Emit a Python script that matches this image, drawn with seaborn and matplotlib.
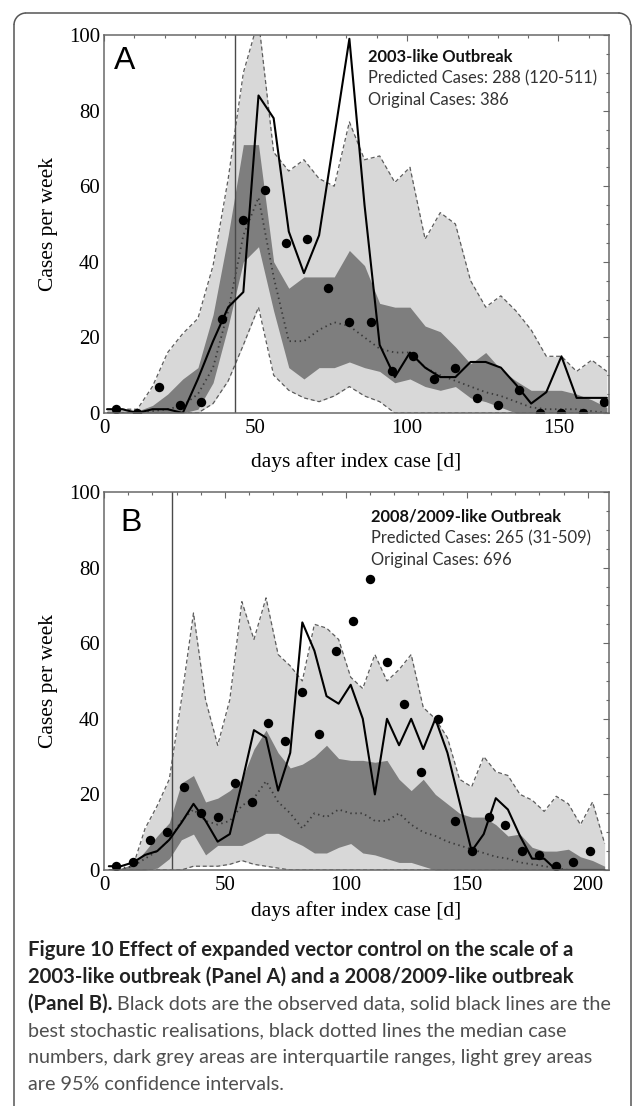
import numpy as np
import pandas as pd
import matplotlib
matplotlib.use("Agg")
import matplotlib.pyplot as plt
from matplotlib.transforms import Affine2D
from matplotlib.patches import Arc
from matplotlib.lines import Line2D
from matplotlib.ticker import MultipleLocator
import seaborn as sns

W, H = 633, 1106

# ---------------- Panel A (2003-like outbreak) ----------------
obs_days_A = [4, 11, 18, 25, 32, 39, 46, 53, 60, 67, 74, 81, 88, 95, 102, 109,
              116, 123, 130, 137, 144, 151, 158, 165]
obs_cases_A = [1, 0, 7, 2, 3, 25, 51, 59, 45, 46, 33, 24, 24, 11, 15, 9,
               12, 4, 2, 6, 0, 0, 0, 3]
sim_days_A = [1, 6, 11, 16, 21, 26, 31, 36, 41, 46, 51, 56, 61, 66, 71, 76, 81,
              86, 91, 96, 101, 106, 111, 116, 121, 126, 131, 136, 141, 146, 151,
              156, 161, 166]
best_A = [1, 1, 0, 1, 1, 0, 9, 19, 28, 32,
          84, 78, 48, 37, 47, 73, 99, 55, 18, 9.5,
          16, 12, 9.5, 9.5, 13.5, 13.5, 12, 7.5, 2.5, 5.5,
          15, 4, 4, 4]
median_A = [0, 0, 0, 0.5, 1, 2, 5, 12, 27, 47,
            57, 36, 19, 19, 22, 24, 23, 20, 17, 16,
            16, 12, 10, 8.5, 7, 5.5, 4.5, 3, 1.5, 1,
            1, 1, 0.5, 0]
iqr_low_A = [0, 0, 0, 0, 0, 0, 1, 8, 23, 40,
             44, 27, 12, 9, 12, 12, 13.5, 12, 11, 8,
             9, 7, 6, 7, 4, 3, 1.5, 0, 0, 0,
             0, 0, 0, 0]
iqr_high_A = [0.5, 0.5, 0.5, 2, 5, 9, 12, 26, 47, 71,
              71, 40, 33, 36, 36, 36, 43, 39, 29, 28,
              28, 23, 21.5, 17.5, 13, 16, 11.5, 8.5, 6, 6,
              6, 5, 3.5, 1.5]
ci_low_A = [0, 0, 0, 0, 0, 0, 0, 2.5, 8.5, 18,
            28, 10, 6, 4, 3, 4.5, 7, 4.5, 3, 0,
            0, 0, 0, 0, 0, 0, 0, 0, 0, 0,
            0, 0, 0, 0]
ci_high_A = [1, 1, 1, 7, 16, 21, 25, 39, 62, 90,
             104, 69, 64, 67, 62, 60, 77, 67, 68, 61,
             65, 46, 53, 50, 35, 28, 31, 27, 22, 15,
             15, 11, 14, 11]
vline_A = 43.3
xmax_A = 166.7
xticks_A = [0, 50, 100, 150]
title_A = "2003-like Outbreak"
info_A = ["Predicted Cases: 288 (120-511)", "Original Cases: 386"]

# ---------------- Panel B (2008/2009-like outbreak) ----------------
obs_days_B = [5, 12, 19, 26, 33, 40, 47, 54, 61, 68, 75, 82, 89, 96, 103, 110,
              117, 124, 131, 138, 145, 152, 159, 166, 173, 180, 187, 194, 201]
obs_cases_B = [1, 2, 8, 10, 22, 15, 14, 23, 18, 39, 34, 47, 36, 58, 66, 77,
               55, 44, 26, 40, 13, 5, 14, 12, 5, 4, 1, 2, 5]
sim_days_B = [2, 7, 12, 17, 22, 27, 32, 37, 42, 47, 52, 57, 62, 67, 72, 77, 82,
              87, 92, 97, 102, 107, 112, 117, 122, 127, 132, 137, 142, 147, 152,
              157, 162, 167, 172, 177, 182, 187, 192, 197, 202, 207]
best_B = [1, 1, 2, 4, 5, 8, 12.5, 17.5, 13, 7.5,
          9.5, 23, 37, 35, 21, 31, 65.5, 58, 46, 44,
          49, 40, 20, 40, 33, 40, 32, 40, 31, 18,
          5, 9.5, 19, 16, 9, 3, 3, 0, 0, 0,
          0, 0]
median_B = [0, 0.5, 1, 3, 5, 8, 13, 16, 13, 12,
            13, 17, 19, 23.5, 18, 15, 11, 15, 14, 16,
            15, 15, 13, 13, 15, 12, 10, 9, 7.5, 6.5,
            5.5, 4.5, 3.5, 3, 2, 1.5, 1, 0.5, 0, 0,
            0, 0]
iqr_low_B = [0, 0, 0, 0, 0.5, 3, 8, 9.5, 4, 6.5,
             6.5, 6.5, 8, 9.7, 9.7, 8, 6.5, 4.5, 4.5, 6,
             7, 4.5, 4, 3, 2, 2, 1, 0, 0, 0,
             0, 0, 0, 0, 0, 0, 0, 0, 0, 0,
             0, 0]
iqr_high_B = [0, 0.5, 1.5, 5, 9, 12.5, 23, 25, 18, 19,
              21, 24, 32, 37, 31, 27, 28, 30, 33, 29.5,
              29, 29, 28.5, 29, 24, 21, 24, 20, 17.5, 15,
              14, 14, 12, 9, 9.5, 6, 5, 5, 5.5, 3.5,
              2.5, 1]
ci_low_B = [0, 0, 0, 0, 0, 0, 0, 1, 1, 1,
            1.5, 2.5, 1.5, 1, 0.5, 0, 0, 0, 0, 0,
            0, 0, 0, 0, 0, 0, 0, 0, 0, 0,
            0, 0, 0, 0, 0, 0, 0, 0, 0, 0,
            0, 0]
ci_high_B = [0, 0, 1, 11, 17, 24, 45, 68, 45, 33,
             45, 71, 61, 72, 57, 54, 50, 65, 64, 61,
             51, 48, 57, 50, 53, 57, 43, 40, 35, 24,
             22, 30, 26, 25, 20, 18.5, 15.5, 19.5, 17.5, 12,
             18, 7]
vline_B = 28.3
xmax_B = 208.8
xticks_B = [0, 50, 100, 150, 200]
title_B = "2008/2009-like Outbreak"
info_B = ["Predicted Cases: 265 (31-509)", "Original Cases: 696"]

yticks = [0, 20, 40, 60, 80, 100]
x_label = "days after index case [d]"
y_label = "Cases per week"

caption_lines = [
    [("Figure 10 Effect of expanded vector control on the scale of a", "bold")],
    [("2003-like outbreak (Panel A) and a 2008/2009-like outbreak", "bold")],
    [("(Panel B).", "bold"), (" Black dots are the observed data, solid black lines are the", "normal")],
    [("best stochastic realisations, black dotted lines the median case", "normal")],
    [("numbers, dark grey areas are interquartile ranges, light grey areas", "normal")],
    [("are 95% confidence intervals.", "normal")],
]

# ---------------- styling ----------------
sns.set_theme(style="white")
plt.rcParams["font.family"] = ["Liberation Serif", "DejaVu Serif"]

LIGHT = "#d8d8d8"
DARK = "#7e7e7e"
FRAME = "#686868"

fig = plt.figure(figsize=(W / 100, H / 100), dpi=100)
PX = Affine2D().scale(1 / W, -1 / H).translate(0, 1) + fig.transFigure


def axes_px(left, top, right, bottom):
    return fig.add_axes([left / W, 1 - bottom / H, (right - left) / W, (bottom - top) / H])


def draw_panel(ax, od, oc, sd, best, med, il, ih, cl, ch, vline, xmax, xticks):
    ax.set_facecolor("white")
    ax.fill_between(sd, cl, ch, color=LIGHT, lw=0, zorder=1)
    ax.fill_between(sd, il, ih, color=DARK, lw=0, zorder=2)
    sns.lineplot(x=sd, y=ch, ax=ax, color="#5c5c5c", lw=0.9, linestyle=(0, (3.2, 2.2)), zorder=3)
    sns.lineplot(x=sd, y=cl, ax=ax, color="#5c5c5c", lw=0.9, linestyle=(0, (3.2, 2.2)), zorder=3)
    sns.lineplot(x=sd, y=med, ax=ax, color="#3a3a3a", lw=1.3, linestyle=(0, (0.8, 2.0)), zorder=4)
    ax.axvline(vline, color="#4a4a4a", lw=1.0, zorder=5)
    sns.lineplot(x=sd, y=best, ax=ax, color="black", lw=1.5, zorder=6)
    sns.scatterplot(x=od, y=oc, ax=ax, color="black", s=46, linewidth=0, zorder=7)
    ax.set_xlim(0, xmax)
    ax.set_ylim(0, 100)
    ax.set_xticks(xticks)
    ax.set_yticks(yticks)
    ax.xaxis.set_minor_locator(MultipleLocator(10))
    ax.yaxis.set_minor_locator(MultipleLocator(5))
    ax.tick_params(which="both", direction="in", top=True, right=True,
                   color=FRAME, width=0.8, labelsize=15, labelcolor="black")
    ax.tick_params(which="major", length=4.5)
    ax.tick_params(which="minor", length=2.5)
    ax.tick_params(axis="x", pad=4)
    ax.tick_params(axis="y", pad=3)
    ax.set_xlabel("")
    ax.set_ylabel("")
    for s in ax.spines.values():
        s.set_color(FRAME)
        s.set_linewidth(1.1)
        s.set_visible(True)
        s.set_zorder(10)


axA = axes_px(104, 35, 609, 413)
draw_panel(axA, obs_days_A, obs_cases_A, sim_days_A, best_A, median_A, iqr_low_A,
           iqr_high_A, ci_low_A, ci_high_A, vline_A, xmax_A, xticks_A)
axB = axes_px(104, 492, 609, 870)
draw_panel(axB, obs_days_B, obs_cases_B, sim_days_B, best_B, median_B, iqr_low_B,
           iqr_high_B, ci_low_B, ci_high_B, vline_B, xmax_B, xticks_B)

# axis labels
for yc, xl_y in [(224, 462), (681, 911)]:
    fig.text(48, yc, y_label, transform=PX, rotation=90, ha="center", va="center",
             fontsize=15.5, color="black")
    fig.text(356.5, xl_y, x_label, transform=PX, ha="center", va="center",
             fontsize=15.5, color="black")

# panel letters
fig.text(114, 61, "A", transform=PX, ha="left", va="center", fontsize=23,
         family=["Liberation Sans", "DejaVu Sans"], color="black")
fig.text(120, 523, "B", transform=PX, ha="left", va="center", fontsize=23,
         family=["Liberation Sans", "DejaVu Sans"], color="black")

# info boxes
SANS = ["Lato", "DejaVu Sans"]
for x0, y0, title, info in [(368, 57, title_A, info_A), (371, 517, title_B, info_B)]:
    fig.text(x0, y0, title, transform=PX, ha="left", va="center", fontsize=11.9,
             fontweight="bold", family=SANS, color="#111111")
    for i, line in enumerate(info):
        fig.text(x0, y0 + 21.7 * (i + 1), line, transform=PX, ha="left", va="center",
                 fontsize=11.9, family=SANS, color="#333333")

# caption
renderer = fig.canvas.get_renderer()
cap_y = [950, 977, 1004, 1031, 1058, 1085]
for yy, parts in zip(cap_y, caption_lines):
    x = 28
    for txt, wgt in parts:
        t = fig.text(x, yy, txt, transform=PX, ha="left", va="center",
                     fontsize=14.6 if wgt == "bold" else 14.2,
                     fontweight=wgt, family=SANS,
                     color="#222222" if wgt == "bold" else "#4f4f4f")
        x += t.get_window_extent(renderer=renderer).width

# figure border (rounded top corners)
r = 12
bl, bt, br = 14, 13, 630.5
bc = "#555555"
fig.add_artist(Line2D([bl, bl], [H, bt + r], transform=PX, color=bc, lw=1.1))
fig.add_artist(Line2D([bl + r, br - r], [bt, bt], transform=PX, color=bc, lw=1.1))
fig.add_artist(Line2D([br, br], [bt + r, H], transform=PX, color=bc, lw=1.1))
fig.add_artist(Arc((bl + r, bt + r), 2 * r, 2 * r, theta1=180, theta2=270,
                   transform=PX, color=bc, lw=1.1))
fig.add_artist(Arc((br - r, bt + r), 2 * r, 2 * r, theta1=270, theta2=360,
                   transform=PX, color=bc, lw=1.1))

fig.savefig("out.png", dpi=100)
